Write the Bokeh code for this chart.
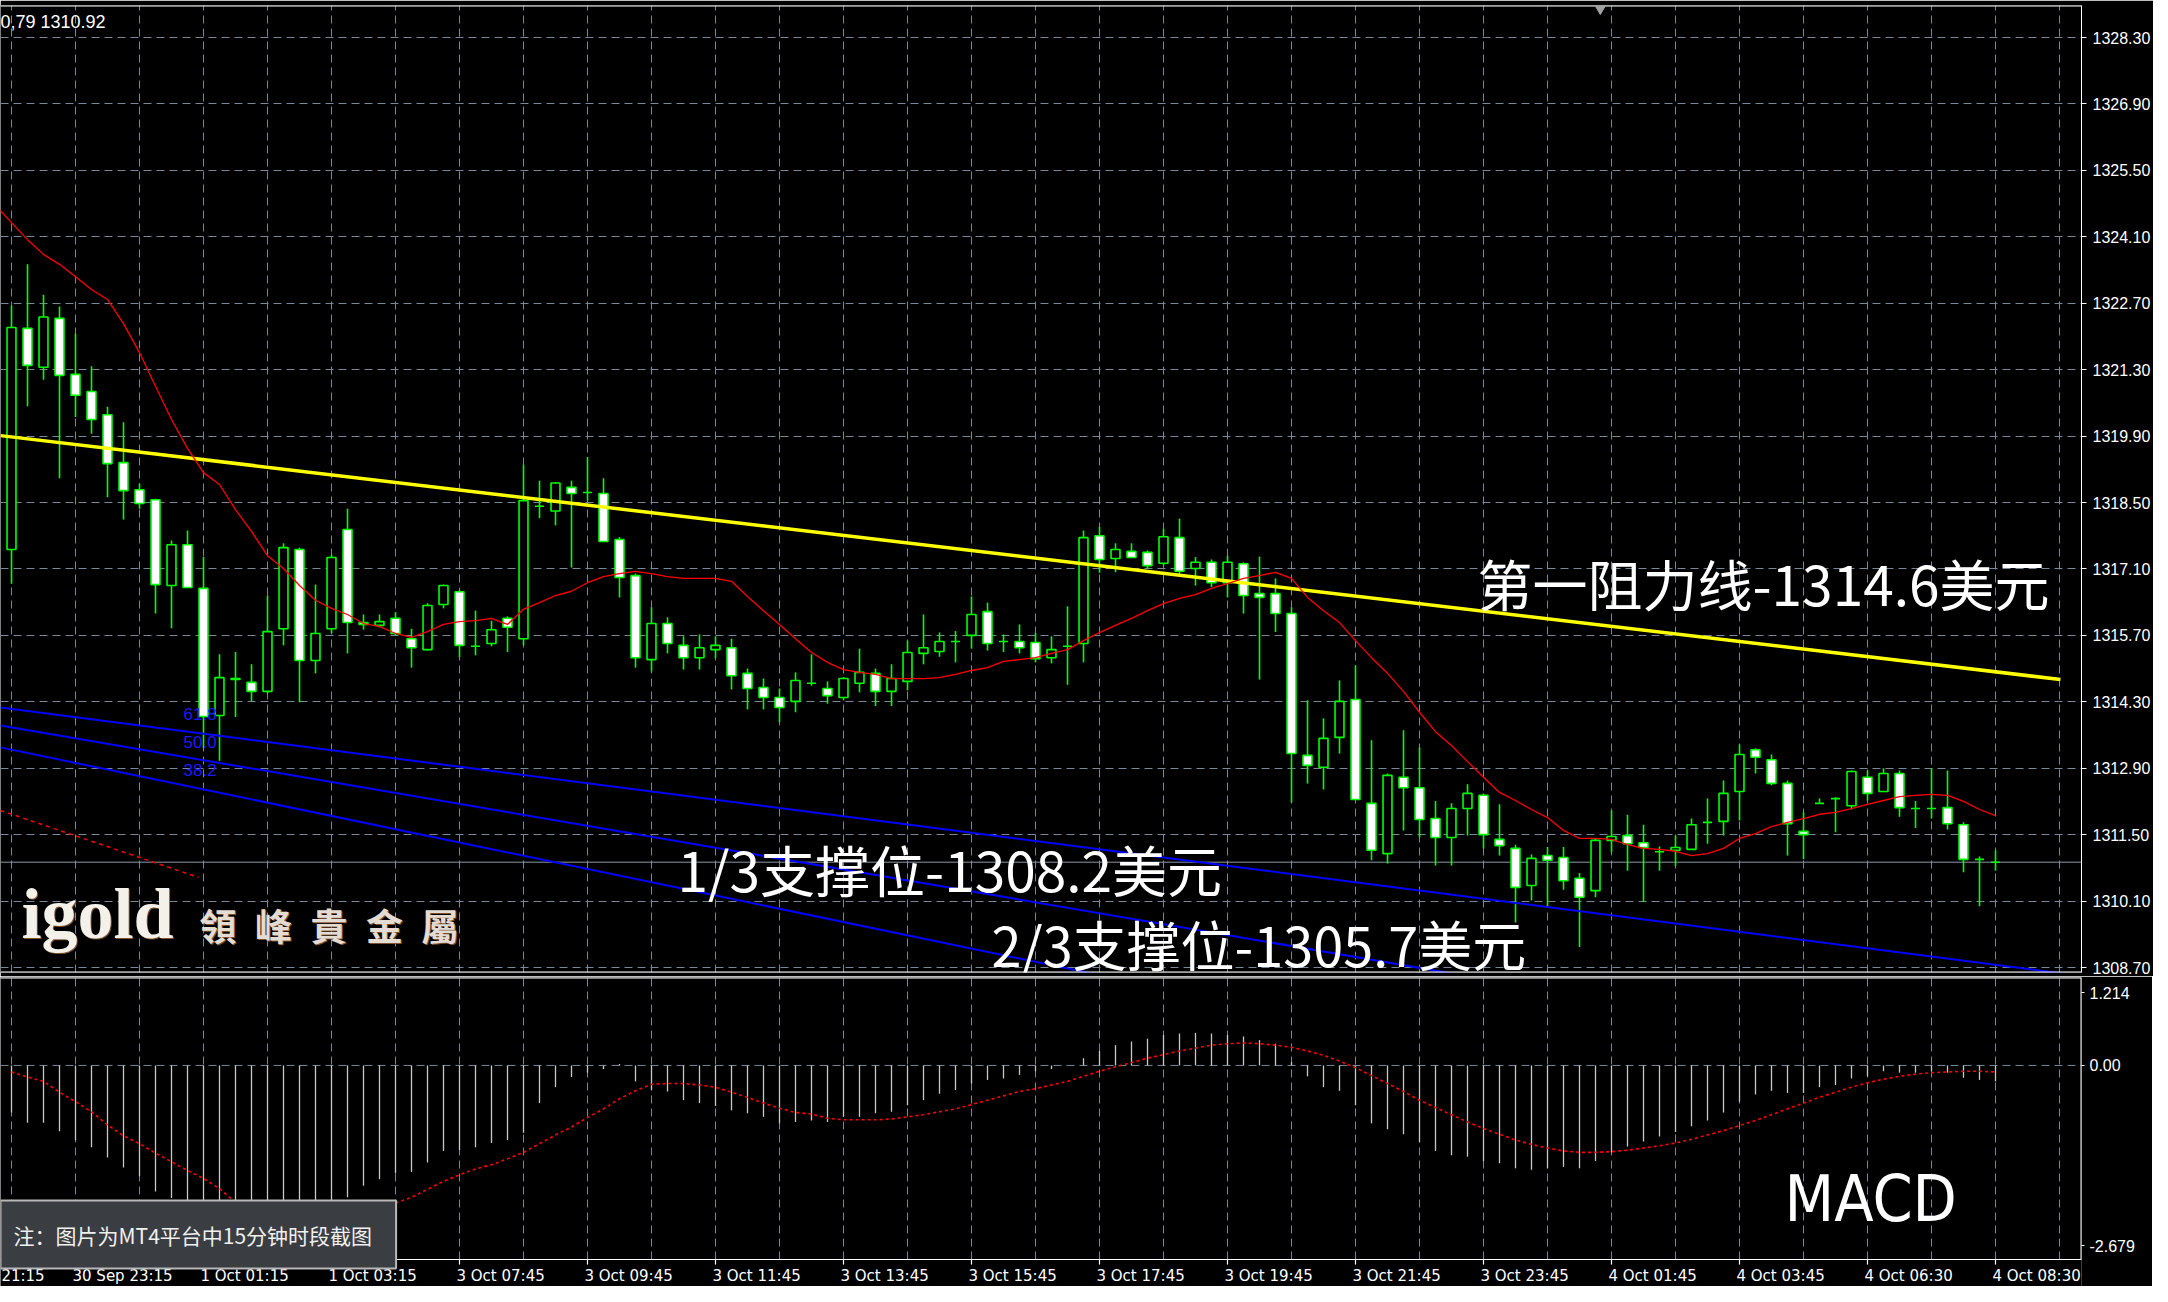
from bokeh.plotting import figure
from bokeh.models import Range1d, FixedTicker, Label, Span, ColumnDataSource, Grid, PrintfTickFormatter
from bokeh.layouts import column
from bokeh.embed import file_html
from bokeh.resources import INLINE
from bokeh.core.properties import value

# ---------------- data (15-minute XAUUSD bars) ----------------
opens = [1317.51,1322.17,1321.35,1322.38,1321.20,1320.84,1320.35,1319.34,1318.77,1318.56,
         1316.75,1317.61,1316.69,1314.01,1314.79,1314.71,1314.52,1315.84,1317.51,1315.17,
         1315.84,1317.93,1315.97,1315.91,1316.06,1315.63,1315.40,1316.35,1316.62,1315.47,
         1315.53,1316.06,1315.63,1318.42,1318.32,1318.82,1318.71,1318.69,1317.72,1316.96,
         1315.19,1315.95,1315.49,1315.23,1315.40,1315.44,1314.90,1314.60,1314.39,1314.31,
         1314.69,1314.58,1314.39,1314.69,1314.90,1314.52,1314.73,1315.32,1315.36,1315.57,
         1315.70,1316.20,1315.57,1315.57,1315.55,1315.23,1315.47,1315.53,1317.80,1317.32,
         1317.47,1317.45,1317.22,1317.76,1317.11,1317.24,1316.81,1317.21,1316.58,1316.58,
         1316.16,1313.17,1312.92,1313.55,1314.35,1312.16,1311.10,1312.71,1312.49,1311.84,
         1311.44,1312.05,1312.33,1311.40,1311.21,1310.43,1311.06,1311.02,1310.58,1310.32,
         1311.38,1311.48,1311.33,1311.14,1311.17,1311.19,1311.76,1311.78,1312.41,1313.29,
         1313.08,1312.58,1311.57,1312.16,1312.26,1312.11,1312.71,1312.41,1312.79,1312.05,
         1312.05,1312.07,1311.71,1310.98,1310.92]
highs = [1322.65,1323.52,1322.88,1322.63,1322.06,1321.37,1320.52,1320.19,1318.90,1318.58,
         1317.70,1317.91,1317.35,1315.30,1315.35,1315.09,1316.54,1317.64,1317.55,1316.77,
         1317.40,1318.37,1316.14,1316.14,1316.19,1315.84,1316.38,1316.77,1316.65,1316.22,
         1316.01,1316.10,1319.30,1318.96,1318.93,1318.96,1319.46,1319.01,1317.77,1317.00,
         1316.29,1316.08,1315.68,1315.72,1315.68,1315.63,1315.00,1314.79,1314.58,1314.92,
         1315.30,1314.73,1314.82,1315.42,1315.00,1315.09,1315.59,1316.14,1315.76,1315.79,
         1316.52,1316.39,1315.72,1315.93,1315.75,1315.68,1316.31,1317.91,1317.99,1317.64,
         1317.64,1317.49,1317.95,1318.16,1317.35,1317.30,1317.38,1317.24,1317.36,1316.90,
         1316.29,1314.33,1313.95,1314.75,1315.07,1313.49,1312.79,1313.70,1313.34,1312.21,
         1312.16,1312.56,1312.37,1312.14,1311.29,1311.08,1311.24,1311.24,1310.69,1311.42,
         1312.01,1311.92,1311.71,1311.25,1311.48,1311.84,1312.26,1312.64,1313.40,1313.32,
         1313.19,1312.64,1311.97,1312.26,1312.29,1312.85,1312.85,1312.90,1312.85,1312.21,
         1312.90,1312.85,1311.76,1311.04,1311.17]
lows = [1316.79,1320.53,1321.09,1319.01,1320.30,1319.95,1318.61,1318.14,1318.37,1316.16,
        1315.85,1316.71,1313.32,1313.06,1313.98,1314.31,1314.48,1315.49,1314.29,1314.90,
        1315.75,1315.32,1315.82,1315.87,1315.70,1315.02,1315.38,1316.27,1315.24,1315.28,
        1315.47,1315.35,1315.49,1318.17,1318.02,1317.13,1318.54,1317.68,1316.50,1315.02,
        1314.94,1315.32,1314.98,1314.98,1315.22,1314.56,1314.14,1314.14,1313.87,1314.08,
        1314.64,1314.26,1314.33,1314.50,1314.21,1314.21,1314.54,1315.09,1315.25,1315.13,
        1315.42,1315.38,1315.35,1315.32,1315.13,1315.11,1314.66,1315.13,1317.02,1317.03,
        1317.33,1317.11,1317.17,1316.96,1316.75,1316.72,1316.50,1316.16,1314.77,1315.77,
        1312.18,1312.58,1312.45,1313.21,1312.24,1310.96,1310.89,1311.59,1311.44,1310.85,
        1310.85,1311.48,1311.21,1311.06,1309.65,1310.11,1309.97,1310.34,1309.13,1310.18,
        1311.13,1310.74,1310.08,1310.74,1310.84,1311.19,1311.31,1311.48,1311.80,1312.79,
        1312.54,1311.06,1310.98,1312.16,1311.55,1312.03,1312.22,1312.41,1311.88,1311.64,
        1311.84,1311.61,1310.71,1309.99,1310.74]
closes = [1322.19,1321.39,1322.41,1321.18,1320.76,1320.25,1319.32,1318.75,1318.48,1316.77,
          1317.61,1316.71,1313.99,1314.81,1314.77,1314.52,1315.78,1317.55,1315.17,1315.74,
          1317.34,1315.97,1315.93,1315.99,1315.74,1315.44,1316.33,1316.75,1315.49,1315.47,
          1315.82,1315.87,1318.54,1318.42,1318.91,1318.69,1318.71,1317.68,1316.92,1315.23,
          1315.95,1315.53,1315.23,1315.44,1315.49,1314.85,1314.58,1314.39,1314.18,1314.75,
          1314.69,1314.43,1314.79,1314.92,1314.52,1314.79,1315.34,1315.44,1315.57,1315.57,
          1316.14,1315.53,1315.57,1315.44,1315.21,1315.40,1315.47,1317.76,1317.30,1317.51,
          1317.34,1317.17,1317.78,1317.05,1317.24,1316.81,1317.24,1316.54,1316.50,1316.16,
          1313.21,1312.96,1313.53,1314.31,1312.24,1311.17,1312.75,1312.49,1311.82,1311.44,
          1312.05,1312.37,1311.50,1311.27,1310.39,1311.00,1310.96,1310.53,1310.18,1311.38,
          1311.46,1311.31,1311.23,1311.14,1311.23,1311.71,1311.76,1312.37,1313.19,1313.13,
          1312.58,1311.73,1311.50,1312.16,1312.26,1312.83,1312.37,1312.79,1312.07,1312.05,
          1312.05,1311.73,1310.98,1310.98,1310.92]
# moving average (red), starts one bar before the first visible bar
ma_values = [1324.76,
    1324.40,1324.04,1323.73,1323.52,1323.26,1322.99,1322.78,1322.27,1321.66,1320.95,
    1320.25,1319.64,1319.13,1318.88,1318.35,1317.89,1317.38,1317.11,1316.75,1316.44,
    1316.27,1316.14,1315.95,1315.89,1315.74,1315.66,1315.78,1315.93,1315.99,1316.01,
    1316.06,1315.93,1316.25,1316.39,1316.54,1316.63,1316.81,1316.94,1317.00,1317.05,
    1317.00,1316.94,1316.90,1316.90,1316.90,1316.84,1316.52,1316.22,1315.93,1315.63,
    1315.34,1315.13,1314.98,1314.92,1314.88,1314.79,1314.79,1314.79,1314.81,1314.88,
    1314.96,1315.02,1315.15,1315.19,1315.23,1315.32,1315.40,1315.59,1315.76,1315.91,
    1316.06,1316.22,1316.37,1316.48,1316.56,1316.69,1316.79,1316.90,1316.96,1317.03,
    1316.90,1316.50,1316.22,1315.97,1315.59,1315.23,1314.90,1314.52,1314.08,1313.67,
    1313.38,1313.04,1312.71,1312.39,1312.22,1312.03,1311.86,1311.59,1311.42,1311.42,
    1311.40,1311.29,1311.21,1311.19,1311.15,1311.06,1311.10,1311.21,1311.42,1311.52,
    1311.67,1311.76,1311.84,1311.93,1311.97,1312.05,1312.14,1312.22,1312.30,1312.33,
    1312.35,1312.33,1312.20,1312.03,1311.90]
macd_main = [-0.65,-0.79,-0.79,-0.91,-1.03,-1.13,-1.27,-1.41,-1.53,-1.74,
             -1.83,-2.00,-2.15,-2.30,-2.35,-2.40,-2.35,-2.30,-2.20,-2.10,
             -1.95,-1.82,-1.66,-1.57,-1.49,-1.47,-1.34,-1.18,-1.17,-1.13,
             -1.07,-1.03,-0.93,-0.52,-0.30,-0.16,-0.10,-0.05,0.02,-0.22,
             -0.34,-0.36,-0.48,-0.52,-0.56,-0.62,-0.66,-0.71,-0.80,-0.78,
             -0.76,-0.78,-0.71,-0.71,-0.66,-0.64,-0.55,-0.48,-0.39,-0.34,
             -0.25,-0.20,-0.18,-0.13,-0.08,-0.05,0.00,0.10,0.20,0.28,
             0.33,0.37,0.42,0.44,0.45,0.44,0.42,0.40,0.35,0.30,
             0.05,-0.15,-0.30,-0.35,-0.55,-0.80,-0.88,-0.95,-1.06,-1.18,
             -1.24,-1.26,-1.32,-1.35,-1.42,-1.44,-1.42,-1.40,-1.42,-1.32,
             -1.20,-1.12,-1.05,-0.98,-0.92,-0.84,-0.76,-0.65,-0.50,-0.40,
             -0.35,-0.38,-0.38,-0.30,-0.27,-0.18,-0.15,-0.08,-0.10,-0.10,
             -0.08,-0.10,-0.17,-0.20,-0.22]
macd_signal = [-0.09,-0.16,-0.22,-0.37,-0.50,-0.64,-0.82,-0.97,-1.08,-1.21,
               -1.33,-1.45,-1.56,-1.70,-1.89,-2.00,-2.08,-2.12,-2.14,-2.12,
               -2.08,-2.03,-1.98,-1.93,-1.90,-1.82,-1.71,-1.60,-1.51,-1.43,
               -1.37,-1.29,-1.20,-1.08,-0.96,-0.85,-0.72,-0.60,-0.46,-0.35,
               -0.26,-0.25,-0.25,-0.27,-0.30,-0.37,-0.44,-0.52,-0.59,-0.65,
               -0.67,-0.73,-0.75,-0.75,-0.75,-0.74,-0.71,-0.68,-0.64,-0.60,
               -0.54,-0.48,-0.42,-0.36,-0.32,-0.27,-0.22,-0.15,-0.08,-0.02,
               0.04,0.10,0.15,0.20,0.24,0.28,0.30,0.31,0.30,0.28,
               0.25,0.20,0.14,0.06,-0.03,-0.14,-0.25,-0.36,-0.48,-0.58,
               -0.68,-0.78,-0.87,-0.95,-1.03,-1.09,-1.14,-1.18,-1.20,-1.20,
               -1.19,-1.17,-1.14,-1.11,-1.07,-1.02,-0.96,-0.90,-0.83,-0.76,
               -0.68,-0.60,-0.52,-0.44,-0.37,-0.30,-0.24,-0.19,-0.15,-0.12,
               -0.10,-0.09,-0.08,-0.08,-0.09]
last_price = 1310.92
price_ticks = [1308.7,1310.1,1311.5,1312.9,1314.3,1315.7,1317.1,1318.5,1319.9,1321.3,
               1322.7,1324.1,1325.5,1326.9,1328.3]
macd_max, macd_min = 1.214, -2.679
time_tick_bars = [-4,4,12,20,28,36,44,52,60,68,76,84,92,100,108,116,124]
time_tick_labels = ["30 Sep 21:15","30 Sep 23:15","1 Oct 01:15","1 Oct 03:15","3 Oct 07:45",
                    "3 Oct 09:45","3 Oct 11:45","3 Oct 13:45","3 Oct 15:45","3 Oct 17:45",
                    "3 Oct 19:45","3 Oct 21:45","3 Oct 23:45","4 Oct 01:45","4 Oct 03:45",
                    "4 Oct 06:30","4 Oct 08:30"]
grid_bars = list(range(0, 130, 4))
# drawn objects (bar index, price)
resistance_bars = [-0.69, 128.06];  resistance_prices = [1319.91, 1314.77]
fib_bars = [-0.69, 130.56]
fib_a_prices = [1314.18, 1308.47]
fib_b_prices = [1313.80, 1306.24]
fib_c_prices = [1313.34, 1304.17]
fib_base_bars = [-0.69, 11.69];  fib_base_prices = [1312.01, 1310.60]
fib_levels = ["61.8", "50.0", "38.2"]
shift_marker_bar = 99.3

# ---------------- styling ----------------
BG = "black"
GRID = "#778899"
GREEN = "#00ff00"
X0, X1 = -0.6875, 129.375
P0, P1 = 1308.595, 1328.975
M1 = macd_max
M0 = -3.0518          # lower edge of the MACD canvas area (room for the time labels)

n = len(opens)
xs = list(range(n))
src = ColumnDataSource(dict(
    x=xs, o=opens, h=highs, l=lows, c=closes,
    top=[max(a, b) for a, b in zip(opens, closes)],
    bot=[min(a, b) for a, b in zip(opens, closes)],
    fill=["white" if c < o else "black" for o, c in zip(opens, closes)],
))

xr = Range1d(X0, X1)

p = figure(frame_width=2081, frame_height=967, width=2152, height=976,
           x_range=xr, y_range=Range1d(P0, P1),
           x_axis_location=None, y_axis_location="right",
           toolbar_location=None, output_backend="svg",
           background_fill_color=BG, border_fill_color=BG,
           min_border_left=0, min_border_right=71, min_border_top=5, min_border_bottom=4,
           outline_line_color=None)
for g in p.grid:
    g.visible = False
p.add_layout(Grid(dimension=0, ticker=FixedTicker(ticks=grid_bars),
                  grid_line_color=GRID, grid_line_dash="8 5", grid_line_width=1))
p.add_layout(Grid(dimension=1, ticker=FixedTicker(ticks=price_ticks),
                  grid_line_color=GRID, grid_line_dash="8 5", grid_line_width=1))
ax = p.yaxis[0]
ax.ticker = FixedTicker(ticks=price_ticks)
ax.formatter = PrintfTickFormatter(format="%.2f")
ax.axis_line_color = "white"
ax.major_tick_line_color = "white"
ax.major_tick_out = 5
ax.major_tick_in = 0
ax.minor_tick_line_color = None
ax.major_label_standoff = 6
ax.major_label_text_color = "white"
ax.major_label_text_font = "Liberation Sans"
ax.major_label_text_font_size = "16px"

p.add_layout(Span(location=last_price, dimension="width", line_color="#8a99aa",
                  line_width=1, level="underlay"))

p.line(fib_base_bars, fib_base_prices, line_color="red", line_width=1.5, line_dash="4 4")
p.segment(x0="x", y0="h", x1="x", y1="l", source=src, line_color=GREEN, line_width=1.6)
p.vbar(x="x", top="top", bottom="bot", width=0.56, source=src,
       fill_color="fill", line_color=GREEN, line_width=1.6)
for pr in (fib_a_prices, fib_b_prices, fib_c_prices):
    p.line(fib_bars, pr, line_color="#0000ff", line_width=2)
p.line(resistance_bars, resistance_prices, line_color="#ffff00", line_width=3.5)
p.line(list(range(-1, n)), ma_values, line_color="#ff0000", line_width=1.3)
# panel borders (top and bottom)
p.segment(x0=[X0, X0], y0=[P0, P1], x1=[X1, X1], y1=[P0, P1], line_color="white", line_width=2)
p.scatter(x=[shift_marker_bar], y=[1328.905], marker="inverted_triangle", size=10,
          fill_color="#a0a0a0", line_color="#a0a0a0")

for lvl, yv in zip(fib_levels, [1314.05, 1313.46, 1312.87]):
    p.add_layout(Label(x=10.75, y=yv, text=lvl, text_color="#1a1aff", text_font="Liberation Sans",
                       text_font_size="17px", text_align="left", text_baseline="middle"))

p.add_layout(Label(x=X0, y=1328.848, text="0,79 1310.92", text_color="white",
                   text_font="Liberation Sans", text_font_size="18px",
                   text_align="left", text_baseline="top"))
p.add_layout(Label(x=129.94, y=last_price, text="1310.92", text_color="black",
                   background_fill_color="white", text_font="Liberation Sans",
                   text_font_size="16px", text_align="left", text_baseline="middle",
                   padding=dict(left=4, right=2, top=1, bottom=1)))

cjk = "Noto Sans CJK SC"
p.add_layout(Label(x=91.625, y=1316.835, text="第一阻力线-1314.6美元", text_color="white",
                   text_font=cjk, text_font_size="55px", text_align="left", text_baseline="middle"))
p.add_layout(Label(x=41.625, y=1310.787, text="1/3支撑位-1308.2美元", text_color="white",
                   text_font=cjk, text_font_size="55px", text_align="left", text_baseline="middle"))
p.add_layout(Label(x=61.25, y=1309.20, text="2/3支撑位-1305.7美元", text_color="white",
                   text_font=cjk, text_font_size="54px", text_align="left", text_baseline="middle"))

# igold logo
logo_cn = "領\u2002峰\u2002貴\u2002金\u2002屬"
p.add_layout(Label(x=0.625, y=1309.82, x_offset=1, y_offset=-1, text="igold", text_color="#7a5030",
                   text_font="Liberation Serif", text_font_style="bold", text_font_size="72px",
                   text_align="left", text_baseline="middle"))
p.add_layout(Label(x=0.625, y=1309.82, text="igold", text_color="#f4f0ea",
                   text_font="Liberation Serif", text_font_style="bold", text_font_size="72px",
                   text_align="left", text_baseline="middle"))
p.add_layout(Label(x=11.75, y=1309.586, x_offset=1, y_offset=-1, text=logo_cn,
                   text_color="#7a5030", text_font="Noto Sans CJK TC", text_font_style="bold",
                   text_font_size="37px", text_align="left", text_baseline="middle"))
p.add_layout(Label(x=11.75, y=1309.586, text=logo_cn,
                   text_color="#e4dcd2", text_font="Noto Sans CJK TC", text_font_style="bold",
                   text_font_size="37px", text_align="left", text_baseline="middle"))

# ---------------- MACD panel (frame runs to the canvas bottom; time scale drawn inside) ----------------
q = figure(frame_width=2081, frame_height=309, width=2152, height=310,
           x_range=xr, y_range=Range1d(M0, M1),
           x_axis_location=None, y_axis_location="right",
           toolbar_location=None, output_backend="svg",
           background_fill_color=BG, border_fill_color=BG,
           min_border_left=0, min_border_right=71, min_border_top=1, min_border_bottom=0,
           outline_line_color=None)
for g in q.grid:
    g.visible = False
q.segment(x0=grid_bars, y0=[macd_min] * len(grid_bars), x1=grid_bars, y1=[M1] * len(grid_bars),
          line_color=GRID, line_dash="8 5", line_width=1)
q.segment(x0=[X0], y0=[0], x1=[X1], y1=[0], line_color=GRID, line_dash="8 5", line_width=1)
qa = q.yaxis[0]
qa.ticker = FixedTicker(ticks=[1.006, 0, -2.486])
qa.major_label_overrides = {1.006: "1.214", 0: "0.00", -2.486: "-2.679"}
qa.axis_line_color = None
qa.major_tick_line_color = "white"
qa.major_tick_out = 3
qa.major_tick_in = 0
qa.minor_tick_line_color = None
qa.major_label_standoff = 5
qa.major_label_text_color = "white"
qa.major_label_text_font = "Liberation Sans"
qa.major_label_text_font_size = "16px"

q.segment(x0=xs, y0=[0] * n, x1=xs, y1=macd_main, line_color="#c8c8c8", line_width=1.3)
q.line(xs, macd_signal, line_color="#ff0000", line_width=1.6, line_dash="3 3")
# panel frame: top, bottom, right border, and time-scale tick marks
q.segment(x0=[X0], y0=[M1], x1=[X1], y1=[M1], line_color="white", line_width=2)
q.segment(x0=[X0], y0=[macd_min], x1=[X1], y1=[macd_min], line_color="white", line_width=1.2)
q.segment(x0=[X1], y0=[macd_min], x1=[X1], y1=[M1], line_color="white", line_width=2)
q.segment(x0=time_tick_bars, y0=[macd_min] * len(time_tick_bars),
          x1=time_tick_bars, y1=[macd_min - 0.07] * len(time_tick_bars),
          line_color="white", line_width=1.2)
q.text(x=time_tick_bars, y=[-2.776] * len(time_tick_bars), text=time_tick_labels,
       x_offset=-3, text_color="white", text_font=value("DejaVu Sans"), text_font_size="15px",
       text_align="left", text_baseline="top")

q.add_layout(Label(x=110.81, y=-1.837, text="MACD", text_color="white",
                   text_font="Liberation Sans Narrow, DejaVu Sans Condensed, Liberation Sans",
                   text_font_size="64px", text_align="left", text_baseline="middle"))
q.add_layout(Label(x=X0, y=-2.334, text="注：图片为MT4平台中15分钟时段截图", text_color="#f0f0f0",
                   text_font="Noto Sans CJK SC", text_font_size="21px",
                   text_align="left", text_baseline="middle",
                   background_fill_color="#3a3d42", border_line_color="#b8b8b8", border_line_width=2,
                   padding=dict(left=13, right=24, top=19, bottom=19)))

layout = column(p, q, spacing=0)
open("out.html", "w").write(file_html(layout, INLINE))
